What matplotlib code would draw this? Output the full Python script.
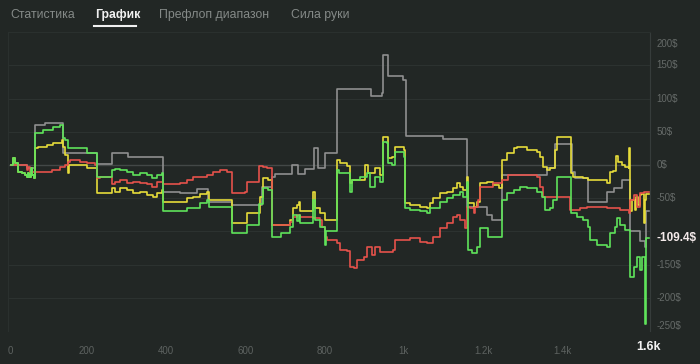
import matplotlib
matplotlib.use("Agg")
import matplotlib.pyplot as plt
from matplotlib.lines import Line2D

plt.rcParams['font.family'] = ['Liberation Sans', 'DejaVu Sans']

# hands played / cumulative winnings in $
gray_x = [7, 48, 69, 94, 140, 224, 262, 304, 391, 435, 477, 506, 565, 641, 666, 675, 717, 733, 751, 773,
          782, 801, 832, 916, 944, 948, 961, 997, 1005, 1098, 1159, 1209, 1222, 1247, 1361, 1382, 1424, 1432,
          1466, 1512, 1530, 1550, 1571, 1596, 1609, 1612, 1618]
gray_y = [0, -5, 60, 64, 18, 1.5, 17.6, 12.5, -40, -42.6, -36, -55, -60, -33, -18.6, -13.5, 0, -13.5, -6.5, 25,
          -5, 17.6, 114, 104, 108, 166, 134, 128, 44, 39, -63, -75, -83, -15, -5, 32, -10, -20,
          -55, -40, -35, -22.6, -100, -115, -123, -70, -70]

yellow_x = [7, 12, 18, 27, 35, 43, 48, 52, 54, 58, 60, 65, 67, 69, 77, 98, 115, 123, 136, 140,
            144, 153, 155, 199, 224, 262, 271, 283, 300, 317, 334, 351, 367, 376, 389, 393, 452, 468, 485, 502,
            509, 565, 603, 637, 645, 658, 666, 713, 721, 729, 734, 738, 771, 776, 788, 801, 830, 839, 856, 864,
            868, 902, 910, 927, 940, 948, 961, 969, 978, 999, 1003, 1016, 1041, 1058, 1066, 1074, 1091, 1108, 1125, 1133,
            1142, 1150, 1159, 1163, 1176, 1184, 1192, 1209, 1226, 1239, 1247, 1260, 1277, 1285, 1310, 1335, 1344, 1352, 1361, 1369,
            1382, 1386, 1421, 1428, 1453, 1466, 1487, 1512, 1521, 1529, 1536, 1540, 1550, 1558, 1567, 1569, 1572, 1575, 1583, 1587,
            1591, 1595, 1599, 1605, 1607, 1609, 1612, 1618]
yellow_y = [0, 10, 2.5, -10, -12.5, -15, -17.6, -12.5, -18.6, -5, -15, -17.6, -20, 25, 27.6, 30, 32.6, 33.6, 37.6, 27.6,
            15, -12.5, 0, -5, -42.7, -35, -40, -35, -37.6, -42.7, -40, -45, -47.7, -42.7, -37.6, -55, -50, -47.7, -43.7, -40.2,
            -52.7, -87.8, -72.8, -47.7, -20, -22.6, -90.4, -82.8, -65, -60, -55, -70, -40, -65, -73, -83, 7.5, 2.5, -1.5, -27.6,
            -22.6, 0, -12.5, -5, -15, 42.7, 10, 12.5, 27.6, 22.6, -57.7, -60, -62.7, -65, -57.7, -50, -42.7, -40, -35, -27.6,
            -32.6, -37.6, -17.6, -57.7, -62.7, -55, -27.6, -25, -30, -35, 7.5, 17.6, 25, 27.6, 22.6, 20, 12.5, -2.5, -7.5, -5,
            22.6, 42.7, -12.5, -17.6, -20, -22.6, -22.6, -27.6, -10, -9, 13, 5, 0, -3, -5, 25, -70, -53, -68, -48,
            -60, -45, -43, -43, -88, -53, -43, -43]

green_x = [7, 12, 18, 27, 35, 43, 48, 52, 54, 58, 60, 65, 67, 69, 90, 115, 132, 140, 144, 153,
           199, 224, 262, 271, 283, 300, 317, 334, 351, 363, 376, 389, 391, 452, 485, 502, 509, 565, 603, 633,
           645, 658, 666, 690, 713, 721, 729, 734, 738, 771, 776, 788, 801, 804, 830, 835, 864, 868, 889, 906,
           915, 927, 940, 948, 957, 961, 969, 978, 999, 1003, 1016, 1041, 1058, 1066, 1091, 1108, 1125, 1142, 1150, 1159,
           1163, 1171, 1184, 1192, 1213, 1247, 1260, 1277, 1293, 1310, 1335, 1348, 1356, 1369, 1377, 1386, 1421, 1436, 1453, 1466,
           1470, 1487, 1512, 1521, 1533, 1537, 1546, 1558, 1572, 1580, 1588, 1596, 1601, 1609, 1612, 1618]
green_y = [0, 10, 2.5, -10, -12.5, -15, -17.6, -12.5, -18.6, -5, -15, -17.6, -20, 47.7, 52.7, 57.7, 60, 40, 37.6, 25,
           17.6, -17.6, -7.5, -6.5, -7.5, -10, -15, -12.5, -15, -20, -15, -11.5, -70, -65, -57.7, -53, -62.7, -103, -90, -58,
           -35, -37.6, -108, -103, -93, -75, -85, -75, -88, -53, -83, -93, -120, -100, -7.5, -12.5, -40, -22.6, -17.6, -12.5,
           -32.6, -17.6, -25, 35, 32.6, 2.5, 0, 20, 12.5, -65, -67.8, -70, -72.8, -65, -55, -50, -45, -40.2, -47.7, -25,
           -128, -133, -123, -95.4, -108, -52.7, -42.7, -37.6, -32.6, -35, -40.2, -47.7, -67.8, -65, -53, -17.6, -72.8, -77.8, -82.8, -92.9,
           -113, -120.5, -123, -103, -93, -80, -90, -98, -168, -153, -138, -158, -138, -240, -109.4, -109.4]

red_x = [7, 48, 52, 56, 94, 111, 132, 144, 153, 157, 182, 199, 220, 224, 233, 262, 271, 283, 300, 317,
         334, 351, 363, 376, 393, 418, 435, 452, 468, 485, 502, 519, 536, 553, 565, 599, 603, 633, 645, 654,
         666, 713, 721, 729, 738, 771, 788, 792, 801, 805, 830, 839, 856, 864, 873, 881, 898, 906, 919, 927,
         940, 957, 973, 978, 999, 1016, 1041, 1058, 1074, 1091, 1108, 1125, 1133, 1142, 1154, 1159, 1167, 1176, 1180, 1188,
         1192, 1226, 1247, 1264, 1293, 1335, 1344, 1352, 1415, 1420, 1445, 1462, 1487, 1512, 1546, 1567, 1571, 1580, 1588, 1596,
         1605, 1618]
red_y = [0, -7.5, -2.5, -10, -10, -7.5, -2.5, 0, 5, 7.5, 5, 2.5, 0, -20, -18.6, -28, -25, -22.6, -27.6, -25,
         -26.6, -28.6, -32.6, -25, -28.6, -28, -27, -22.6, -17.6, -17.6, -15, -10, -7.5, -10, -42.7, -40.2, -25, -1.5, -2.5, -5,
         -90.4, -85.3, -77.8, -75.3, -77.8, -80.3, -82.8, -92.9, -108, -113, -118, -128, -130, -153, -155.6, -143, -138, -123, -135.5, -123,
         -130.5, -130.5, -128, -113, -113, -110.5, -115.5, -118, -108, -95.4, -87.8, -77.8, -75.3, -82.8, -95.4, -62.7, -65.3, -72.8, -62.7, -52.7,
         -32.6, -27.6, -22.6, -15, -15, -17.6, -32.6, -47.7, -47.7, -67.8, -65.3, -62.7, -62.7, -65.3, -67.8, -72.8, -52.7, -45.2, -62.7, -42.7,
         -40, -40]

x_ticks = [0, 200, 400, 600, 800, 1000, 1200, 1400]
x_labels = ['0', '200', '400', '600', '800', '1k', '1.2k', '1.4k']
y_ticks = [-250, -200, -150, -100, -50, 0, 50, 100, 150, 200]
tabs = ['Статистика', 'График', 'Префлоп диапазон', 'Сила руки']

BG = '#222725'
fig = plt.figure(figsize=(7, 3.64), dpi=100, facecolor=BG)
ax = fig.add_axes([7.8 / 700, 1 - 331 / 364, 641.7 / 700, 298.8 / 364], facecolor=BG)
ax.set_xlim(0, 1620)
ax.set_ylim(-250, 200)

for v in y_ticks:
    ax.axhline(v, color='#434847' if v == 0 else '#2c3230', lw=1.0 if v == 0 else 0.8, zorder=0)

ax.plot(gray_x, gray_y, drawstyle='steps-post', color='#8f8f8f', lw=1.2)
ax.plot(yellow_x, yellow_y, drawstyle='steps-post', color='#e6dc3a', lw=1.2)
ax.plot(red_x, red_y, drawstyle='steps-post', color='#e5524b', lw=1.2)
ax.plot(green_x, green_y, drawstyle='steps-post', color='#5fe35a', lw=1.2)

ax.spines['bottom'].set_visible(False)
ax.spines['top'].set_color('#2a302e')
ax.spines['left'].set_color('#2a302e')
ax.spines['right'].set_color('#363c3b')
ax.set_yticks([])
ax.set_xticks(x_ticks)
ax.set_xticklabels(x_labels)
ax.tick_params(axis='x', length=0, pad=11, labelsize=7, labelcolor='#5d6260')
ax.get_xticklabels()[0].set_horizontalalignment('left')

last = green_y[-1]
for v in y_ticks:
    if abs(v - last) < 20:
        continue
    dy = -12 if v == 200 else (5 if v == -250 else 0)
    ax.annotate(f'{v}$', xy=(1, v), xycoords=('axes fraction', 'data'), xytext=(7, dy),
                textcoords='offset pixels', ha='left', va='center', fontsize=7, color='#656a68')
ax.annotate(f'{last}$', xy=(1, last), xycoords=('axes fraction', 'data'), xytext=(7, 0),
            textcoords='offset pixels', ha='left', va='center', fontsize=8.5, fontweight='bold', color='#f4eaea')
ax.annotate('1.6k', xy=(green_x[-1], 0), xycoords=('data', 'axes fraction'), xytext=(0, -16),
            textcoords='offset pixels', ha='center', va='center', fontsize=9, fontweight='bold', color='#f2f2f2')

tab_x = [10, 95, 159, 291]
for i, t in enumerate(tabs):
    active = i == 1
    fig.text(tab_x[i] / 700, 1 - 15 / 364, t, ha='left', va='center', fontsize=8.8,
             color='#f0f0f0' if active else '#858a88', fontweight='bold' if active else 'normal')
fig.add_artist(Line2D([94 / 700, 136 / 700], [1 - 26 / 364] * 2, color='#f0f0f0', lw=1.5))

fig.savefig('out.png', dpi=100, facecolor=BG)
